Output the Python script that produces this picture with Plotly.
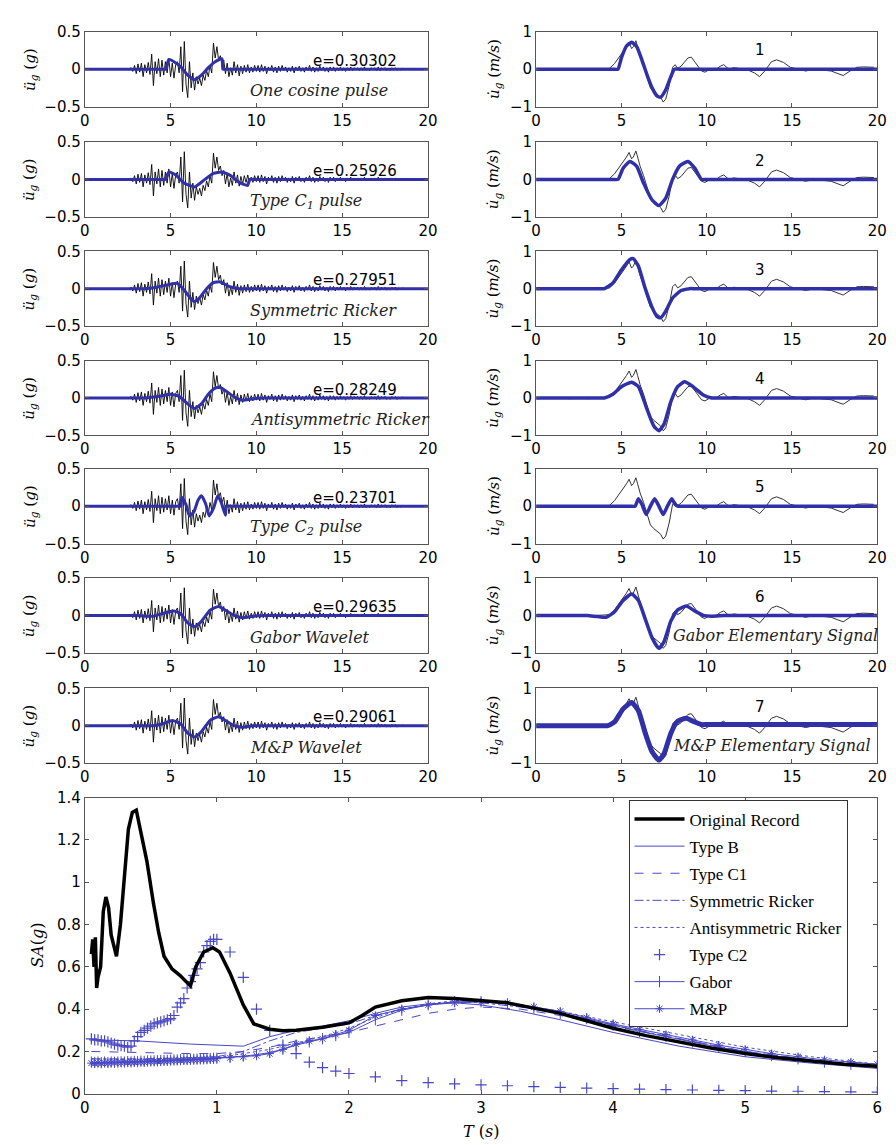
import plotly.graph_objects as go

W, H = 896, 1145

# ------------------------------------------------------------------ data
# recorded ground acceleration (g), uniformly sampled from ACC_T0 with ACC_DT
ACC_T0 = 2.5
ACC_DT = 0.1
acc_record = [
    0, 0, 0.02, -0.03, 0.05,
    -0.06, 0.07, -0.04, 0.08, -0.1, 0.06, -0.05, 0.09, -0.07, 0.2,
    -0.22, 0.1, -0.06, 0.14, -0.1, 0.12, -0.08, 0.1, -0.05, 0.14,
    -0.1, 0.08, -0.12, 0.06, 0.1, -0.05, 0.3, -0.3, 0.37, -0.2,
    -0.38, 0.1, -0.25, -0.05, -0.28, -0.1, -0.2, -0.12, -0.22, -0.08,
    -0.15, -0.02, -0.1, 0.05, -0.05, 0.35, 0.15, 0.3, 0.12, 0.18,
    0.05, 0.12, -0.06, 0.08, -0.1, 0.02, -0.08, 0.1, -0.05, 0.06,
    -0.09, 0.04, -0.06, 0.05, -0.04, 0.06, -0.05, 0.03, -0.04, 0.05,
    -0.03, 0.05, -0.04, 0.06, -0.03, 0.04, -0.06, 0.03, -0.02, 0.05,
    -0.04, 0.03, -0.05, 0.04, -0.03, 0.05, -0.02, 0.03, -0.04, 0.02,
    -0.03, 0.04, -0.05, 0.03, -0.02, 0.04, -0.03, 0.02, -0.04, 0.03,
    -0.02, 0.05, -0.03, 0.03, -0.04, 0.02, -0.03, 0.04, -0.02, 0.03,
    -0.03, 0.02, -0.04, 0.03, -0.02, 0.03, -0.03, 0.02, -0.02, 0.03,
    -0.02, 0.02, -0.03, 0.02, -0.02, 0.03, -0.02, 0.02, -0.01, 0.02,
    -0.02, 0.02, -0.02, 0.03, -0.02, 0.01, -0.02, 0.02, -0.01, 0.02,
    -0.02, 0.03, -0.02, 0.02, -0.01, 0.02, -0.02, 0.01, -0.02, 0.02,
    -0.01, 0.02, -0.02, 0.01, -0.01, 0.01, 0,
]

# recorded ground velocity (m/s)
vel_t = [1.5, 2.0, 2.5, 3.0, 3.5, 4.0, 4.3, 4.6, 4.9, 5.1, 5.3, 5.45, 5.6, 5.7, 5.85,
         5.95, 6.1, 6.3, 6.5, 6.7, 6.9, 7.1, 7.3, 7.45, 7.6, 7.8, 8.0, 8.15, 8.3, 8.5,
         8.7, 8.9, 9.1, 9.3, 9.5, 9.7, 9.9, 10.2, 10.5, 10.8, 11.0, 11.3, 11.6, 12.0,
         12.4, 12.8, 13.1, 13.4, 13.8, 14.1, 14.5, 14.9, 15.3, 15.8, 16.3, 16.8, 17.3,
         17.7, 18.0, 18.4, 18.8, 19.2, 19.6, 19.8]
vel_record = [0, -0.02, 0, -0.02, 0, 0, 0.02, 0.15, 0.35, 0.45, 0.6, 0.72, 0.55, 0.6, 0.76,
              0.6, 0.35, 0.1, -0.2, -0.5, -0.6, -0.68, -0.75, -0.88, -0.8, -0.45, 0.05, 0.12, 0.02, 0.08,
              0.2, 0.3, 0.32, 0.2, 0.05, -0.05, -0.08, 0, -0.02, 0.08, 0.12, 0, 0.04, 0,
              -0.02, -0.1, -0.2, -0.05, 0.2, 0.25, 0.18, 0.05, 0, -0.05, 0, -0.03, -0.05,
              -0.12, -0.17, -0.05, 0.05, 0.06, 0.05, 0.05]

# fitted pulse models: acceleration (left) and velocity (right)
acc1_t = [0, 4.4, 4.7, 4.9, 5.2, 5.6, 6.0, 6.4, 6.8, 7.2, 7.6, 8.0, 8.05, 8.35, 20]
acc1_v = [0, 0, 0, 0.13, 0.1, 0.03, -0.08, -0.14, -0.08, 0.02, 0.1, 0.14, 0, 0, 0]
vel1_t = [0, 4.5, 4.8, 5.0, 5.3, 5.6, 5.9, 6.2, 6.5, 6.8, 7.1, 7.3, 7.6, 7.9, 8.1, 8.4, 20]
vel1_v = [0, 0, 0, 0.3, 0.62, 0.72, 0.6, 0.25, -0.15, -0.5, -0.72, -0.75, -0.55, -0.2, 0, 0, 0]

acc2_t = [0, 4.4, 4.7, 4.9, 5.3, 5.8, 6.4, 7.0, 7.5, 8.0, 8.5, 9.0, 9.5, 9.6, 9.9, 20]
acc2_v = [0, 0, 0, 0.1, 0.06, -0.05, -0.1, 0, 0.08, 0.1, 0.05, -0.04, -0.08, 0, 0, 0]
vel2_t = [0, 4.5, 4.8, 5.1, 5.5, 5.9, 6.3, 6.8, 7.2, 7.6, 8.0, 8.4, 8.9, 9.3, 9.7, 10.0, 20]
vel2_v = [0, 0, 0, 0.3, 0.48, 0.35, -0.1, -0.55, -0.7, -0.5, 0, 0.35, 0.48, 0.3, 0, 0, 0]

acc3_t = [0, 3.2, 3.5, 4.2, 5.0, 5.4, 5.8, 6.2, 6.4, 6.7, 7.1, 7.5, 7.9, 8.4, 9.0, 9.3, 20]
acc3_v = [0, 0, 0, 0.02, 0.06, 0.07, -0.02, -0.14, -0.17, -0.12, 0, 0.08, 0.09, 0.03, 0, 0, 0]
vel3_t = [0, 3.7, 4.0, 4.5, 5.0, 5.5, 5.7, 6.0, 6.4, 6.8, 7.1, 7.3, 7.6, 8.0, 8.5, 9.0, 9.3, 20]
vel3_v = [0, 0, 0, 0.15, 0.5, 0.78, 0.8, 0.6, 0, -0.5, -0.75, -0.78, -0.6, -0.25, -0.05, 0, 0, 0]

acc4_t = [0, 3.2, 3.5, 4.5, 5.0, 5.5, 6.0, 6.4, 6.8, 7.2, 7.6, 7.9, 8.3, 8.8, 9.2, 9.8, 10.5, 10.8, 20]
acc4_v = [0, 0, 0, 0.03, 0.05, 0.02, -0.08, -0.14, -0.08, 0.05, 0.13, 0.14, 0.08, 0, -0.03, -0.01, 0, 0, 0]
vel4_t = [0, 3.7, 4.0, 4.5, 5.0, 5.6, 6.0, 6.5, 6.9, 7.2, 7.5, 7.9, 8.3, 8.7, 9.2, 9.8, 10.3, 10.6, 20]
vel4_v = [0, 0, 0, 0.1, 0.3, 0.42, 0.3, -0.3, -0.75, -0.88, -0.7, -0.1, 0.3, 0.43, 0.3, 0.08, 0, 0, 0]

acc5_t = [0, 5.3, 5.6, 5.65, 5.9, 6.1, 6.35, 6.6, 6.8, 7.05, 7.25, 7.5, 7.75, 7.95, 8.2, 8.25, 8.55, 20]
acc5_v = [0, 0, 0, 0.12, 0.02, -0.13, -0.08, 0.08, 0.14, 0.03, -0.13, -0.03, 0.14, 0.05, -0.12, 0, 0, 0]
vel5_t = [0, 5.5, 5.8, 6.0, 6.2, 6.45, 6.7, 6.95, 7.2, 7.45, 7.7, 7.95, 8.15, 8.3, 8.6, 20]
vel5_v = [0, 0, 0, 0.2, 0.05, -0.22, 0, 0.2, 0, -0.22, 0, 0.2, 0.05, 0, 0, 0]

acc6_t = [0, 2.7, 3.0, 4.0, 4.6, 5.2, 5.6, 6.0, 6.4, 6.8, 7.3, 7.8, 8.2, 8.7, 9.2, 9.8, 10.5, 10.8, 20]
acc6_v = [0, 0, 0, -0.01, 0.03, 0.06, 0.02, -0.1, -0.15, -0.08, 0.07, 0.12, 0.07, 0, -0.03, -0.01, 0, 0, 0]
vel6_t = [0, 2.7, 3.0, 3.6, 4.1, 4.6, 5.1, 5.6, 6.0, 6.4, 6.8, 7.2, 7.5, 7.9, 8.3, 8.8, 9.3, 9.8, 10.3, 11, 11.3, 20]
vel6_v = [0, 0, 0, -0.03, -0.05, 0.1, 0.4, 0.57, 0.4, -0.1, -0.6, -0.88, -0.7, -0.15, 0.15, 0.25, 0.12, 0, -0.02, 0, 0, 0]

acc7_t = [0, 3.7, 4.0, 4.6, 5.1, 5.6, 6.0, 6.4, 6.8, 7.3, 7.8, 8.2, 8.7, 9.2, 9.8, 10.1, 20]
acc7_v = [0, 0, 0, 0.03, 0.07, 0.02, -0.1, -0.15, -0.08, 0.07, 0.12, 0.07, 0, -0.02, 0, 0, 0]
vel7_t = [0, 3.9, 4.2, 4.6, 5.1, 5.6, 6.0, 6.4, 6.8, 7.2, 7.5, 7.9, 8.3, 8.8, 9.3, 9.7, 10.0, 20]
vel7_v = [0, 0, 0, 0.1, 0.45, 0.62, 0.4, -0.2, -0.7, -0.92, -0.75, -0.2, 0.12, 0.2, 0.1, 0.03, 0.03, 0.03]

acc_names = ["One cosine pulse", "Type C<sub>1</sub> pulse", "Symmetric Ricker",
             "Antisymmetric Ricker", "Type C<sub>2</sub> pulse", "Gabor Wavelet", "M&P Wavelet"]
errors = ["e=0.30302", "e=0.25926", "e=0.27951", "e=0.28249", "e=0.23701", "e=0.29635", "e=0.29061"]
vel_labels = ["1", "2", "3", "4", "5", "6", "7"]
vel_names = {6: "Gabor Elementary Signal", 7: "M&P Elementary Signal"}

# response spectra SA(g) vs T(s)
orig_T = [0.05, 0.06, 0.07, 0.08, 0.09, 0.1, 0.12, 0.14, 0.16, 0.18, 0.2, 0.22, 0.24, 0.27, 0.3,
          0.33, 0.36, 0.39, 0.42, 0.47, 0.52, 0.56, 0.6, 0.66, 0.72, 0.8, 0.84, 0.9, 0.97, 1.02,
          1.1, 1.2, 1.28, 1.4, 1.5, 1.6, 1.8, 2.0, 2.1, 2.2, 2.4, 2.6, 2.8, 3.0, 3.2, 3.4, 3.6,
          3.8, 4.0, 4.25, 4.5, 4.75, 5.0, 5.25, 5.5, 5.75, 6.0]
orig_SA = [0.66, 0.73, 0.6, 0.74, 0.5, 0.55, 0.6, 0.86, 0.93, 0.88, 0.75, 0.7, 0.65, 0.8, 1.05,
           1.25, 1.33, 1.34, 1.25, 1.1, 0.9, 0.76, 0.65, 0.59, 0.56, 0.51, 0.6, 0.67, 0.69, 0.67,
           0.57, 0.42, 0.33, 0.305, 0.298, 0.3, 0.315, 0.335, 0.37, 0.41, 0.44, 0.455, 0.45, 0.44,
           0.43, 0.405, 0.38, 0.345, 0.31, 0.275, 0.245, 0.215, 0.19, 0.17, 0.155, 0.14, 0.13]

typeB_T = [0.05, 0.4, 0.8, 1.2, 1.4, 1.6, 1.8, 2.0, 2.2, 2.4, 2.6, 2.8, 3.0, 3.3, 3.6, 4.0, 4.5, 5.0, 5.5, 6.0]
typeB_SA = [0.255, 0.25, 0.235, 0.225, 0.27, 0.3, 0.32, 0.345, 0.38, 0.41, 0.425, 0.43, 0.42, 0.39,
            0.35, 0.29, 0.225, 0.175, 0.145, 0.12]

ricker_T = [0.05, 0.4, 0.8, 1.0, 1.2, 1.4, 1.6, 1.8, 2.0, 2.2, 2.4, 2.6, 2.8, 3.0, 3.3, 3.6, 4.0, 4.5, 5.0, 5.5, 6.0]
typeC1_SA = [0.2, 0.195, 0.19, 0.19, 0.2, 0.22, 0.25, 0.27, 0.29, 0.32, 0.35, 0.38, 0.4, 0.41, 0.4,
             0.37, 0.32, 0.26, 0.2, 0.16, 0.125]
symR_SA = [0.165, 0.165, 0.17, 0.175, 0.2, 0.25, 0.29, 0.31, 0.33, 0.37, 0.4, 0.42, 0.435, 0.43,
           0.41, 0.38, 0.325, 0.26, 0.2, 0.16, 0.13]
antiR_SA = [0.165, 0.16, 0.165, 0.17, 0.19, 0.21, 0.24, 0.27, 0.31, 0.36, 0.4, 0.425, 0.44, 0.44,
            0.42, 0.39, 0.34, 0.28, 0.22, 0.175, 0.14]

mark_T = [0.05, 0.075, 0.1, 0.125, 0.15, 0.175, 0.2, 0.225, 0.25, 0.275, 0.3, 0.325, 0.35, 0.375,
          0.4, 0.425, 0.45, 0.475, 0.5, 0.525, 0.55, 0.575, 0.6, 0.625, 0.65, 0.675, 0.7, 0.725,
          0.75, 0.775, 0.8, 0.825, 0.85, 0.875, 0.9, 0.925, 0.95, 0.975, 1.0,
          1.1, 1.2, 1.3, 1.4, 1.5, 1.6, 1.7, 1.8, 1.9, 2.0,
          2.2, 2.4, 2.6, 2.8, 3.0, 3.2, 3.4, 3.6, 3.8, 4.0, 4.2, 4.4, 4.6, 4.8, 5.0, 5.2, 5.4,
          5.6, 5.8, 6.0]
typeC2_SA = [0.26, 0.255, 0.255, 0.25, 0.25, 0.245, 0.24, 0.235, 0.23, 0.228, 0.225, 0.22, 0.225, 0.25,
             0.27, 0.29, 0.3, 0.31, 0.32, 0.33, 0.335, 0.34, 0.345, 0.35, 0.355, 0.37, 0.41, 0.43,
             0.45, 0.5, 0.53, 0.56, 0.59, 0.62, 0.67, 0.7, 0.72, 0.73, 0.73,
             0.67, 0.55, 0.4, 0.3, 0.23, 0.19, 0.15, 0.124, 0.107, 0.096,
             0.08, 0.062, 0.053, 0.047, 0.042, 0.038, 0.034, 0.03, 0.027, 0.024, 0.022, 0.02, 0.018,
             0.016, 0.015, 0.013, 0.012, 0.01, 0.009, 0.008]
gabor_SA = [0.15, 0.148, 0.15, 0.147, 0.15, 0.148, 0.15, 0.149, 0.15, 0.151, 0.15, 0.152, 0.151, 0.153,
            0.152, 0.154, 0.153, 0.155, 0.155, 0.156, 0.156, 0.157, 0.158, 0.158, 0.159, 0.16, 0.16,
            0.161, 0.162, 0.162, 0.163, 0.163, 0.164, 0.165, 0.165, 0.166, 0.167, 0.168, 0.168,
            0.172, 0.178, 0.185, 0.195, 0.21, 0.23, 0.245, 0.26, 0.275, 0.29,
            0.35, 0.395, 0.42, 0.435, 0.435, 0.425, 0.405, 0.38, 0.355, 0.325, 0.295, 0.27, 0.245,
            0.22, 0.2, 0.18, 0.165, 0.15, 0.14, 0.13]
mp_SA = [0.145, 0.143, 0.146, 0.144, 0.146, 0.145, 0.147, 0.146, 0.148, 0.147, 0.149, 0.148, 0.15, 0.149,
         0.15, 0.151, 0.15, 0.152, 0.152, 0.153, 0.153, 0.154, 0.155, 0.155, 0.156, 0.157, 0.157,
         0.158, 0.159, 0.159, 0.16, 0.161, 0.161, 0.162, 0.163, 0.163, 0.164, 0.165, 0.166,
         0.17, 0.175, 0.18, 0.19, 0.21, 0.235, 0.25, 0.26, 0.28, 0.3,
         0.37, 0.4, 0.42, 0.43, 0.435, 0.43, 0.41, 0.39, 0.36, 0.33, 0.305, 0.28, 0.255,
         0.23, 0.21, 0.19, 0.175, 0.16, 0.15, 0.14]

# ------------------------------------------------------------------ layout helpers
BLUE_THICK = "#3030A8"
BLUE_THIN = "#4848C6"
AXC = "#555555"
TICKFONT = dict(family="DejaVu Sans", size=15, color="black")
SERIF = "DejaVu Serif"


def xd(a, b):
    return [a / W, b / W]


def yd(top, bot):
    return [1 - bot / H, 1 - top / H]


acc_t = [round(ACC_T0 + ACC_DT * i, 2) for i in range(len(acc_record))]
acc_models = [(acc1_t, acc1_v), (acc2_t, acc2_v), (acc3_t, acc3_v), (acc4_t, acc4_v),
              (acc5_t, acc5_v), (acc6_t, acc6_v), (acc7_t, acc7_v)]
vel_models = [(vel1_t, vel1_v), (vel2_t, vel2_v), (vel3_t, vel3_v), (vel4_t, vel4_v),
              (vel5_t, vel5_v), (vel6_t, vel6_v), (vel7_t, vel7_v)]

row_tops = [15, 127, 238, 349, 459, 570, 682]
ROW_H = 76
LEFT_X = (73, 422)
RIGHT_X = (532, 879)

fig = go.Figure()
layout = dict(width=W, height=H, margin=dict(l=0, r=0, t=0, b=0),
              paper_bgcolor="white", plot_bgcolor="white", showlegend=True)
annotations = []


def axis_pair(idx, xdom, ydom, xr, yr, xtv, xtt, ytv, ytt):
    common = dict(showline=True, linecolor=AXC, linewidth=1, mirror="ticks", ticks="inside",
                  ticklen=4, tickcolor=AXC, showgrid=False, zeroline=False, tickfont=TICKFONT,
                  fixedrange=True)
    layout["xaxis%d" % idx] = dict(domain=xdom, range=xr, anchor="y%d" % idx,
                                   tickvals=xtv, ticktext=xtt, **common)
    layout["yaxis%d" % idx] = dict(domain=ydom, range=yr, anchor="x%d" % idx,
                                   tickvals=ytv, ticktext=ytt, **common)


idx = 0
for r in range(7):
    top = row_tops[r]
    bot = top + ROW_H
    # left: acceleration
    idx += 1
    axis_pair(idx, xd(*LEFT_X), yd(top, bot), [0, 20], [-0.5, 0.5],
              [0, 5, 10, 15, 20], ["0", "5", "10", "15", "20"],
              [-0.5, 0, 0.5], ["\u22120.5", "0", "0.5"])
    fig.add_trace(go.Scatter(x=acc_t, y=acc_record, mode="lines", line=dict(color="black", width=0.9),
                             xaxis="x%d" % idx, yaxis="y%d" % idx, showlegend=False, hoverinfo="skip"))
    mt, mv = acc_models[r]
    fig.add_trace(go.Scatter(x=mt, y=mv, mode="lines",
                             line=dict(color=BLUE_THICK, width=3, shape="spline", smoothing=0.5),
                             xaxis="x%d" % idx, yaxis="y%d" % idx, showlegend=False, hoverinfo="skip"))
    annotations.append(dict(x=13.2, y=0.11, xref="x%d" % idx, yref="y%d" % idx, text=errors[r],
                            showarrow=False, xanchor="left", yanchor="middle",
                            font=dict(family="DejaVu Sans", size=15, color="black")))
    annotations.append(dict(x=9.5, y=-0.29, xref="x%d" % idx, yref="y%d" % idx,
                            text="<i>%s</i>" % acc_names[r], showarrow=False, xanchor="left",
                            yanchor="middle", font=dict(family=SERIF, size=16, color="#222")))
    annotations.append(dict(x=17 / W, y=1 - (top + ROW_H / 2) / H, xref="paper", yref="paper",
                            xanchor="center", yanchor="middle",
                            text="<i>\u00fc<sub>g</sub></i> (<i>g</i>)", textangle=-90, showarrow=False,
                            font=dict(family=SERIF, size=15, color="black")))
    # right: velocity
    idx += 1
    axis_pair(idx, xd(*RIGHT_X), yd(top, bot), [0, 20], [-1, 1],
              [0, 5, 10, 15, 20], ["0", "5", "10", "15", "20"],
              [-1, 0, 1], ["\u22121", "0", "1"])
    fig.add_trace(go.Scatter(x=vel_t, y=vel_record, mode="lines",
                             line=dict(color="#333333", width=1),
                             xaxis="x%d" % idx, yaxis="y%d" % idx, showlegend=False, hoverinfo="skip"))
    mt, mv = vel_models[r]
    fig.add_trace(go.Scatter(x=mt, y=mv, mode="lines",
                             line=dict(color=BLUE_THICK, width=5 if r == 6 else 3.5, shape="spline", smoothing=0.5),
                             xaxis="x%d" % idx, yaxis="y%d" % idx, showlegend=False, hoverinfo="skip"))
    annotations.append(dict(x=13.1, y=0.5, xref="x%d" % idx, yref="y%d" % idx, text=vel_labels[r],
                            showarrow=False, xanchor="center", yanchor="middle",
                            font=dict(family="DejaVu Sans", size=15, color="black")))
    if (r + 1) in vel_names:
        annotations.append(dict(x=7.9, y=-0.53, xref="x%d" % idx, yref="y%d" % idx,
                                text="<i>%s</i>" % vel_names[r + 1], showarrow=False, xanchor="left",
                                yanchor="middle", font=dict(family=SERIF, size=16, color="#222")))
    annotations.append(dict(x=489 / W, y=1 - (top + ROW_H / 2) / H, xref="paper", yref="paper",
                            xanchor="center", yanchor="middle",
                            text="<i>u\u0307<sub>g</sub></i> (<i>m/s</i>)", textangle=-90, showarrow=False,
                            font=dict(family=SERIF, size=15, color="black")))

# bottom spectrum panel
idx += 1
axis_pair(idx, xd(73, 879), yd(793, 1094), [0, 6], [0, 1.4],
          [0, 1, 2, 3, 4, 5, 6], ["0", "1", "2", "3", "4", "5", "6"],
          [0, 0.2, 0.4, 0.6, 0.8, 1.0, 1.2, 1.4], ["0", "0.2", "0.4", "0.6", "0.8", "1", "1.2", "1.4"])
xa, ya = "x%d" % idx, "y%d" % idx

spec = [
    dict(name="Original Record", x=orig_T, y=orig_SA, mode="lines", line=dict(color="black", width=3.5)),
    dict(name="Type B", x=typeB_T, y=typeB_SA, mode="lines", line=dict(color=BLUE_THIN, width=1)),
    dict(name="Type C1", x=ricker_T, y=typeC1_SA, mode="lines", line=dict(color=BLUE_THIN, width=1, dash="dash")),
    dict(name="Symmetric Ricker", x=ricker_T, y=symR_SA, mode="lines", line=dict(color=BLUE_THIN, width=1, dash="dashdot")),
    dict(name="Antisymmetric Ricker", x=ricker_T, y=antiR_SA, mode="lines", line=dict(color=BLUE_THIN, width=1, dash="dot")),
    dict(name="Type C2", x=mark_T, y=typeC2_SA, mode="markers",
         marker=dict(symbol="cross-thin", size=8, line=dict(color=BLUE_THIN, width=1.2), color=BLUE_THIN)),
    dict(name="Gabor", x=mark_T, y=gabor_SA, mode="lines+markers", line=dict(color=BLUE_THIN, width=1),
         marker=dict(symbol="line-ns", size=8, line=dict(color=BLUE_THIN, width=1), color=BLUE_THIN)),
    dict(name="M&P", x=mark_T, y=mp_SA, mode="lines+markers", line=dict(color=BLUE_THIN, width=1),
         marker=dict(symbol="asterisk", size=7, line=dict(color=BLUE_THIN, width=1), color=BLUE_THIN)),
]
# draw original on top but keep it first in legend
for k, s in enumerate(spec[1:], start=1):
    fig.add_trace(go.Scatter(xaxis=xa, yaxis=ya, legendgroup=s["name"], legendrank=k + 1,
                             hoverinfo="skip", **s))
s0 = spec[0]
fig.add_trace(go.Scatter(xaxis=xa, yaxis=ya, legendgroup=s0["name"], legendrank=0, hoverinfo="skip", **s0))

annotations.append(dict(x=25 / W, y=1 - 943 / H, xref="paper", yref="paper", text="<i>SA</i>(<i>g</i>)",
                        xanchor="center", yanchor="middle",
                        textangle=-90, showarrow=False, font=dict(family=SERIF, size=16, color="black")))
annotations.append(dict(x=476 / W, y=1 - 1132 / H, xref="paper", yref="paper", text="<i>T</i> (<i>s</i>)",
                        xanchor="center", yanchor="middle",
                        showarrow=False, font=dict(family=SERIF, size=16, color="black")))

layout["annotations"] = annotations
layout["legend"] = dict(x=626 / W, y=1 - 796 / H, xanchor="left", yanchor="top", bgcolor="white",
                        bordercolor="#333333", borderwidth=1, tracegroupgap=2, itemwidth=50,
                        font=dict(family="Liberation Serif", size=17, color="black"))
fig.update_layout(**layout)
fig.write_html("out.html")
